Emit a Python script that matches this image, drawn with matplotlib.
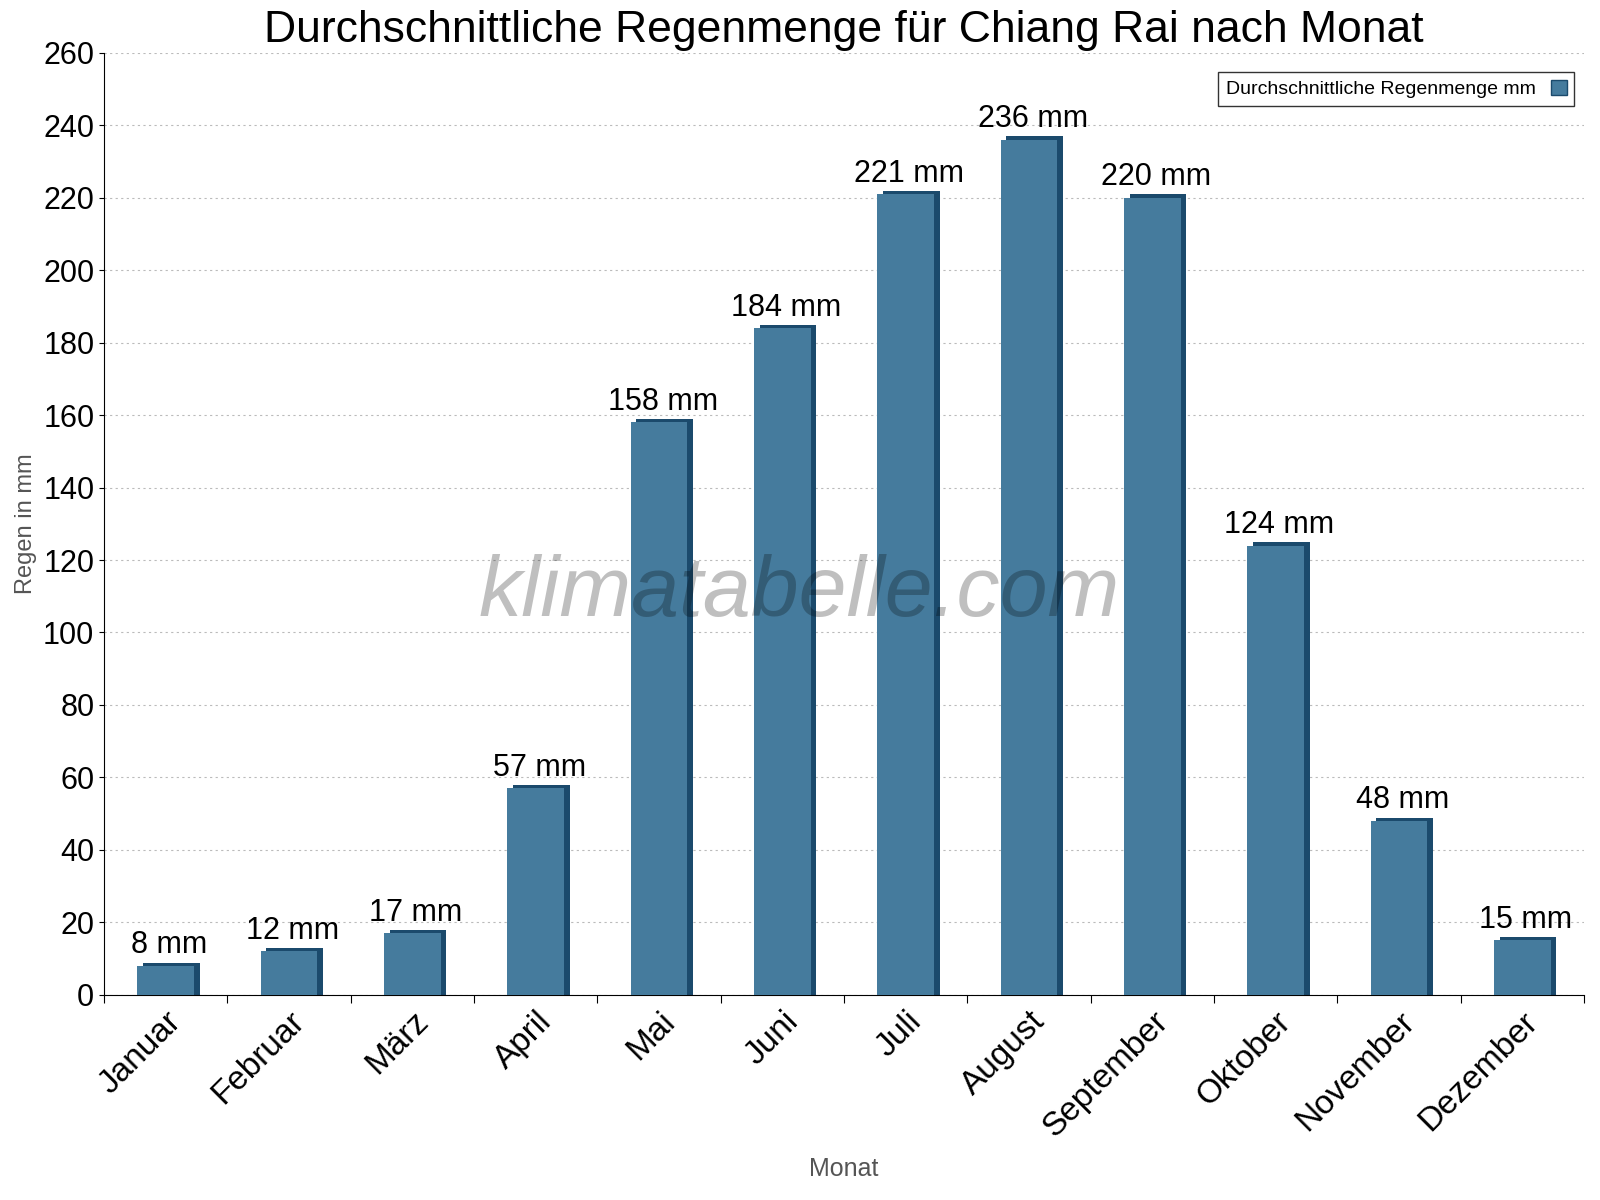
import matplotlib
matplotlib.use("Agg")
import matplotlib.pyplot as plt
from matplotlib.patches import Patch
import numpy as np

months = ["Januar","Februar","März","April","Mai","Juni","Juli","August",
          "September","Oktober","November","Dezember"]
rain = [8, 12, 17, 57, 158, 184, 221, 236, 220, 124, 48, 15]
yticks = list(range(0, 261, 20))

plt.rcParams["font.family"] = "Liberation Sans"
fig = plt.figure(figsize=(16, 12), dpi=100)
ax = fig.add_axes([0.065, 0.171, 0.925, 0.785])

x = np.arange(len(months))
w = 0.46
main = "#457b9d"
dark = "#1b4a6c"
ax.bar(x + 0.045, np.array(rain) + 0.9, width=w, color=dark, zorder=2)
ax.bar(x, rain, width=w, color=main, zorder=3)
for xi, v in zip(x, rain):
    ax.text(xi + 0.03, v + 1.5, f"{v} mm", ha="center", va="bottom", fontsize=22, zorder=4)

ax.set_xlim(-0.5, 11.5)
ax.set_ylim(0, 260)
ax.set_yticks(yticks)
ax.set_yticklabels([str(t) for t in yticks], fontsize=22)
ax.set_xticks(np.arange(-0.5, 12, 1), minor=False)
ax.set_xticklabels([])
ax.set_xticks(x, minor=True)
ax.set_xticklabels(months, minor=True, rotation=45, ha="right", rotation_mode="anchor", fontsize=24)
ax.tick_params(axis="x", which="minor", length=0, pad=8)
ax.tick_params(axis="x", which="major", length=6)
ax.grid(axis="y", linestyle=(0, (2, 3)), color="#bbbbbb", zorder=0)
for s in ["top", "right"]:
    ax.spines[s].set_visible(False)
ax.set_ylabel("Regen in mm", fontsize=17, color="#555555")
ax.set_xlabel("Monat", fontsize=18, color="#555555", labelpad=10)
ax.set_title("Durchschnittliche Regenmenge für Chiang Rai nach Monat", fontsize=32, pad=8)
ax.text(0.47, 0.425, "klimatabelle.com", transform=ax.transAxes, fontsize=62,
        style="italic", color="#000000", alpha=0.25, ha="center", va="center", zorder=5)
leg = ax.legend(handles=[Patch(facecolor=main, edgecolor=dark)],
                labels=["Durchschnittliche Regenmenge mm"], loc="upper right",
                markerfirst=False, fontsize=14, fancybox=False, edgecolor="black",
                handlelength=0.8, handleheight=0.8, bbox_to_anchor=(1.0, 0.99))
fig.savefig("out.png")
